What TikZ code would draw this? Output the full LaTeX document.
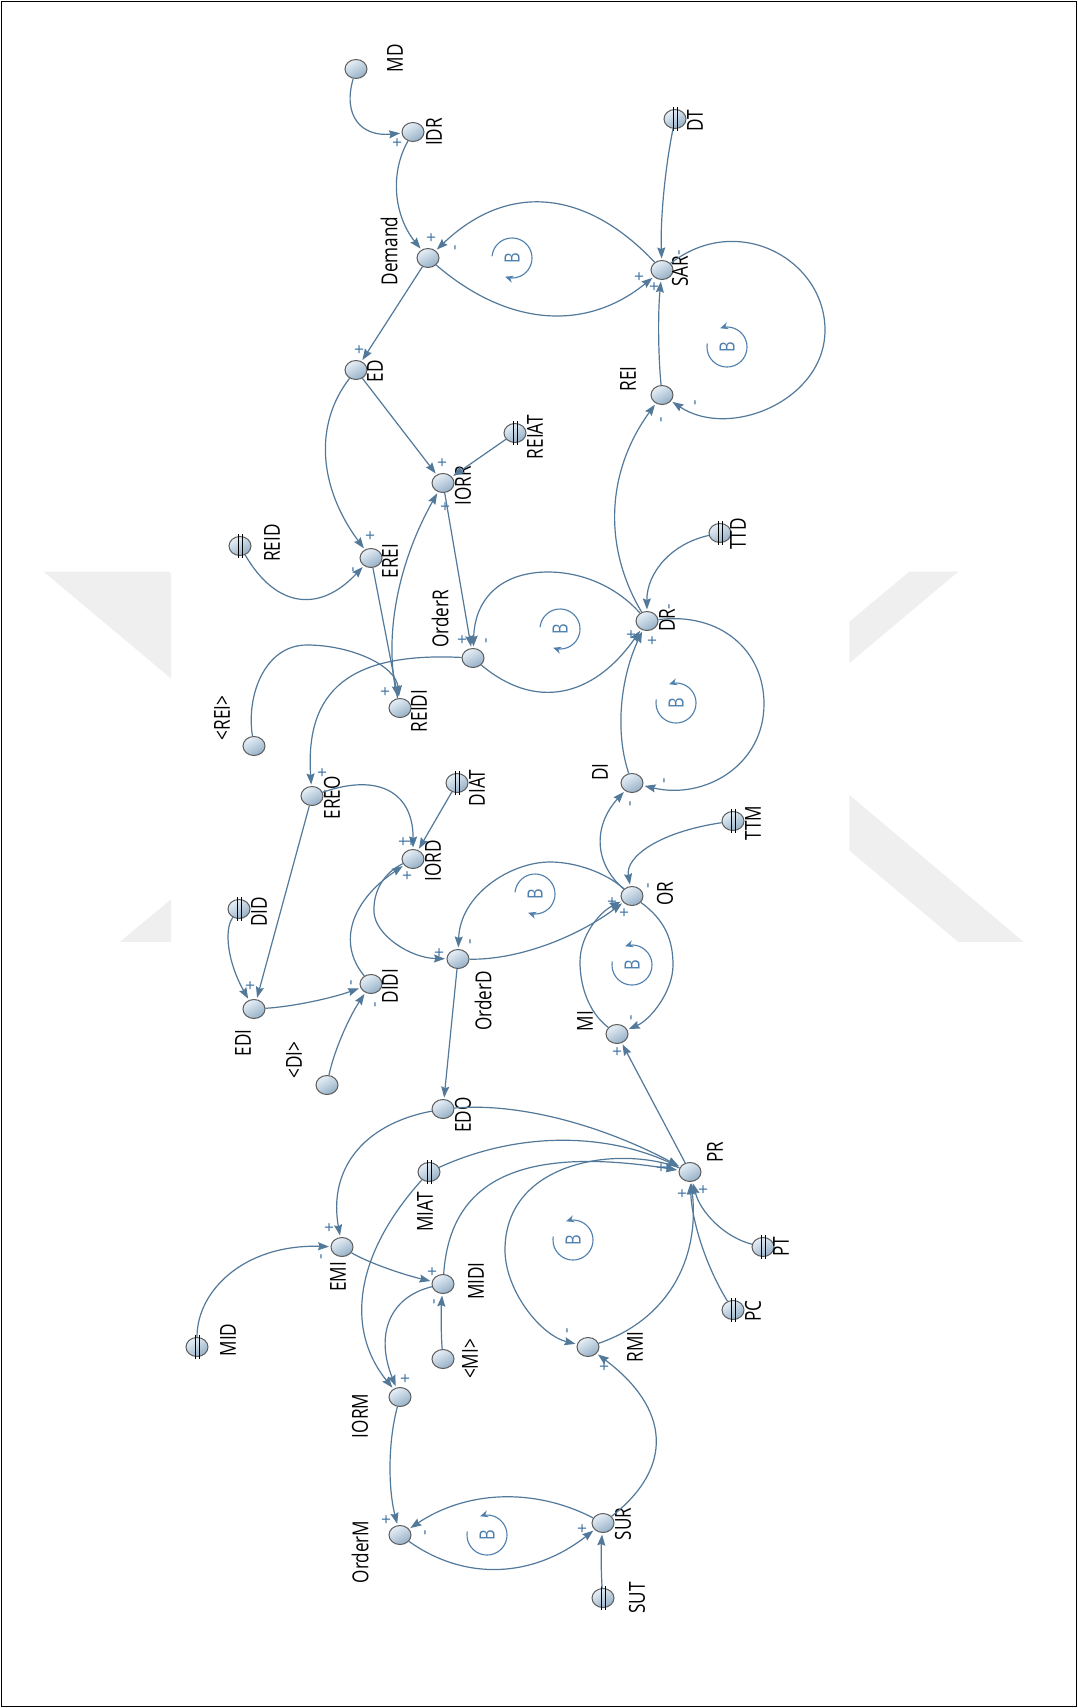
\documentclass[tikz,border=0pt]{standalone}
\usepackage{fontspec}
\setmainfont{Open Sans}
\newfontfamily\labf[FakeStretch=0.78]{Open Sans}
\usetikzlibrary{arrows.meta,calc,shapes.geometric}
\definecolor{lk}{HTML}{52799A}
\definecolor{sg}{HTML}{3F73A3}
\definecolor{blc}{HTML}{4F80AD}
\definecolor{vb}{HTML}{5C5C5C}
\definecolor{vl}{HTML}{E8F0F7}
\definecolor{vd}{HTML}{94AFC6}
\definecolor{wm}{HTML}{EFEFEF}
\tikzset{
 var/.style={ellipse, draw=vb, line width=1pt, minimum width=22pt, minimum height=19pt, inner sep=0pt, top color=vl, bottom color=vd, shading angle=30},
 lab/.style={font=\labf\fontsize{22}{24}\selectfont, rotate=90, inner sep=0pt, text=black},
 sgn/.style={font=\fontsize{17}{18}\selectfont, rotate=90, inner sep=0pt, text=sg},
 link/.style={draw=lk, line width=1.2pt, -{Stealth[length=11pt,width=8pt,inset=1.5pt]}, shorten >=1.5pt},
 cbar/.style={line width=1pt, black},
 bsym/.style={font=\labf\fontsize{21}{22}\selectfont, rotate=90, inner sep=0pt, text=blc},
 bloop/.style={draw=blc, line width=1.1pt, -{Stealth[length=8pt,width=7pt]}},
}
\newcommand\cst[1]{\draw[cbar] ($(#1)+(-2,-12)$)--($(#1)+(-2,12)$) ($(#1)+(2,-12)$)--($(#1)+(2,12)$);}
\newcommand\qlink[3]{\coordinate (qq) at ($2*(#2)-0.5*(#1)-0.5*(#3)$);
 \draw[link] (#1) .. controls ($(#1)!0.6667!(qq)$) and ($(#3)!0.6667!(qq)$) .. (#3);}
\newcommand\bcw[3]{\draw[bloop] plot[domain=185:470,samples=40,smooth] ({#1+20*cos(\x)},{#2+20*sin(\x)});
 \node[bsym] (#3) at (#1,#2) {B};}
\newcommand\bccw[3]{\draw[bloop] plot[domain=-190:110,samples=40,smooth] ({#1+20*cos(-\x)},{#2+20*sin(-\x)});
 \node[bsym] (#3) at (#1,#2) {B};}
\begin{document}
\begin{tikzpicture}[x=1pt,y=-1pt]
\useasboundingbox (0,0) rectangle (1078,1708);
\fill[white] (0,0) rectangle (1078,1708);
% faint watermark outside the diagram area
\fill[wm] (43.6,571.7) -- (168.8,571.7) -- (171,574) -- (171,678.4) -- cycle;
\fill[wm] (119.8,941.9) -- (171,941.9) -- (171,899.4) -- cycle;
\fill[wm] (909.2,571.7) -- (958.2,571.7) -- (849.3,663.1) -- (849.3,621.8) -- cycle;
\fill[wm] (849.3,794.9) -- (1023.6,941.9) -- (958.2,941.9) -- (849.3,850.4) -- cycle;
\draw[line width=1.5pt] (1.5,1.5) rectangle (1076.5,1706.5);
% variables
\node[var] (MD) at (356,69) {};
\node[var] (IDR) at (413,132) {};
\node[var] (Demand) at (428,258) {};
\node[var] (SAR) at (662,270) {};
\node[var] (DT) at (675,119) {};
\node[var] (ED) at (356,370) {};
\node[var] (REI) at (662,395) {};
\node[var] (REIAT) at (515,433) {};
\node[var] (IORR) at (443,483) {};
\node[var] (REID) at (240,546) {};
\node[var] (EREI) at (371,558) {};
\node[var] (TTD) at (720,533) {};
\node[var] (DR) at (647,621) {};
\node[var] (OrderR) at (473,658) {};
\node[var] (REIDI) at (400,708) {};
\node[var] (REIx) at (254,746) {};
\node[var] (EREO) at (312,796) {};
\node[var] (DIAT) at (457,783) {};
\node[var] (DI) at (632,783) {};
\node[var] (TTM) at (733,821) {};
\node[var] (IORD) at (413,859) {};
\node[var] (OR) at (632,896) {};
\node[var] (DID) at (239,909) {};
\node[var] (OrderD) at (458,959) {};
\node[var] (DIDI) at (371,984) {};
\node[var] (EDI) at (254,1009) {};
\node[var] (MI) at (617,1034) {};
\node[var] (DIx) at (327,1085) {};
\node[var] (EDO) at (443,1109) {};
\node[var] (MIAT) at (429,1172) {};
\node[var] (PR) at (690,1172) {};
\node[var] (EMI) at (342,1247) {};
\node[var] (PT) at (763,1247) {};
\node[var] (MIDI) at (443,1284) {};
\node[var] (PC) at (733,1310) {};
\node[var] (MID) at (197,1347) {};
\node[var] (RMI) at (588,1347) {};
\node[var] (MIx) at (443,1359) {};
\node[var] (IORM) at (400,1397) {};
\node[var] (SUR) at (603,1523) {};
\node[var] (OrderM) at (400,1535) {};
\node[var] (SUT) at (603,1598) {};
\foreach \c in {DT,REIAT,REID,TTD,DIAT,TTM,DID,MIAT,PT,PC,MID,SUT} {\cst{\c}}
% labels
\node[lab] (lMD) at (395,58) {MD};
\node[lab] (lIDR) at (434,132) {IDR};
\node[lab] (lDemand) at (389,251) {Demand};
\node[lab] (lSAR) at (680,271) {SAR};
\node[lab] (lDT) at (695,121) {DT};
\node[lab] (lED) at (375,371) {ED};
\node[lab] (lREI) at (628,379) {REI};
\node[lab] (lREIAT) at (535,437) {REIAT};
\node[lab] (lIORR) at (463,486) {IORR};
\node[lab] (lREID) at (272,543) {REID};
\node[lab] (lEREI) at (390,561) {EREI};
\node[lab] (lOrderR) at (440,619) {OrderR};
\node[lab] (lREIDI) at (419,711) {REIDI};
\node[lab] (lREIx) at (222,718) {<REI>};
\node[lab] (lEREO) at (332,798) {EREO};
\node[lab] (lDIAT) at (477,788) {DIAT};
\node[lab] (lIORD) at (433,861) {IORD};
\node[lab] (lDID) at (259,912) {DID};
\node[lab] (lOrderD) at (483,1001) {OrderD};
\node[lab] (lDIDI) at (390,986) {DIDI};
\node[lab] (lEDI) at (243,1043) {EDI};
\node[lab] (lDIx) at (294,1060) {<DI>};
\node[lab] (lTTD) at (738,534) {TTD};
\node[lab] (lDR) at (667,620) {DR};
\node[lab] (lDI) at (600,772) {DI};
\node[lab] (lTTM) at (753,823) {TTM};
\node[lab] (lOR) at (665,894) {OR};
\node[lab] (lMI) at (585,1021) {MI};
\node[lab] (lEDO) at (463,1115) {EDO};
\node[lab] (lMIAT) at (425,1212) {MIAT};
\node[lab] (lEMI) at (338,1277) {EMI};
\node[lab] (lMIDI) at (476,1281) {MIDI};
\node[lab] (lMID) at (228,1340) {MID};
\node[lab] (lMIx) at (470,1359) {<MI>};
\node[lab] (lIORM) at (360,1416) {IORM};
\node[lab] (lPR) at (715,1152) {PR};
\node[lab] (lPT) at (781,1247) {PT};
\node[lab] (lPC) at (753,1311) {PC};
\node[lab] (lRMI) at (635,1347) {RMI};
\node[lab] (lOrderM) at (360,1552) {OrderM};
\node[lab] (lSUR) at (623,1524) {SUR};
\node[lab] (lSUT) at (637,1598) {SUT};
% links: top
\qlink{MD}{360,120}{IDR}
\qlink{IDR}{399,195}{Demand}
\qlink{Demand}{547,313}{SAR}
\qlink{SAR}{545,205}{Demand}
\qlink{DT}{664,195}{SAR}
\qlink{REI}{659,332}{SAR}
\draw[link] (SAR) .. controls (738,211) and (825,260) .. (825,330) .. controls (825,400) and (730,440) .. (REI);
\draw[link] (Demand) -- (ED);
\qlink{ED}{328,458}{EREI}
\draw[link] (ED) -- (IORR);
\draw[link] (REIAT) -- (IORR);
\draw[link] (IORR) -- (OrderR);
\draw[link] (EREI) -- (REIDI);
\qlink{REIDI}{398,600}{IORR}
\qlink{REID}{300,596}{EREI}
\draw[link] (REIx) .. controls (246,695) and (265,645) .. (307,645) .. controls (350,645) and (396,665) .. (REIDI);
\qlink{OrderR}{563,688}{DR}
\draw[link] (DR) .. controls (615,585) and (580,572) .. (548,572) .. controls (505,572) and (475,595) .. (OrderR);
\qlink{TTD}{665,563}{DR}
\qlink{DR}{617,508}{REI}
\draw[link] (DR) .. controls (720,612) and (764,650) .. (764,704) .. controls (764,765) and (705,800) .. (DI);
\qlink{DI}{623,705}{DR}
\qlink{OR}{603,843}{DI}
\qlink{TTM}{652,848}{OR}
\draw[link] (OR) .. controls (605,872) and (575,862) .. (550,862) .. controls (510,862) and (460,895) .. (OrderD);
\qlink{OrderD}{545,944}{OR}
\draw[link] (MI) .. controls (588,1012) and (580,985) .. (580,962) .. controls (580,935) and (600,912) .. (OR);
\draw[link] (OR) .. controls (665,920) and (673,940) .. (673,965) .. controls (673,992) and (650,1020) .. (MI);
\draw[link] (PR) -- (MI);
% middle
\draw[link] (IORD) .. controls (385,872) and (373,890) .. (374,912) .. controls (375,935) and (410,958) .. (OrderD);
\qlink{DIDI}{356,922}{IORD}
\qlink{EREO}{388,794}{IORD}
\draw[link] (DIAT) -- (IORD);
\draw[link] (OrderR) .. controls (350,652) and (305,690) .. (EREO);
\draw[link] (EREO) -- (EDI);
\qlink{DID}{231,950}{EDI}
\qlink{EDI}{312,1001}{DIDI}
\qlink{DIx}{343,1035}{DIDI}
\draw[link] (OrderD) -- (EDO);
% bottom
\qlink{EDO}{560,1120}{PR}
\qlink{EDO}{357,1155}{EMI}
\qlink{MIAT}{560,1142}{PR}
\qlink{MIAT}{366,1290}{IORM}
\draw[link] (MIDI) .. controls (450,1180) and (520,1145) .. (PR);
\qlink{PT}{716,1221}{PR}
\qlink{PC}{702,1243}{PR}
\qlink{RMI}{672,1283}{PR}
\draw[link] (PR) .. controls (620,1145) and (505,1160) .. (505,1250) .. controls (505,1290) and (540,1335) .. (RMI);
\qlink{SUR}{653,1437}{RMI}
\qlink{SUT}{601.5,1561}{SUR}
\qlink{IORM}{391,1465}{OrderM}
\qlink{SUR}{500,1499}{OrderM}
\qlink{OrderM}{500,1567}{SUR}
\qlink{EMI}{385,1267}{MIDI}
\draw[link] (MID) .. controls (197,1290) and (245,1244) .. (EMI);
\qlink{MIx}{441.5,1322}{MIDI}
\qlink{MIDI}{392,1322}{IORM}
% loop symbols
\bcw{512}{258}{B1}
\bccw{727}{347}{B2}
\bcw{560}{629}{B3}
\bccw{676}{703}{B4}
\bcw{535}{894}{B5}
\bccw{632}{965}{B6}
\bccw{573}{1240}{B7}
\bccw{487}{1535}{B8}
% signs
\node[sgn] (s1) at (398,143) {+};
\node[sgn] (s2) at (432,238) {+};
\node[sgn] (s3) at (457,248) {-};
\node[sgn] (s4) at (360,350) {+};
\node[sgn] (s5) at (640,277) {+};
\node[sgn] (s6) at (655,287) {+};
\node[sgn] (s7) at (681,253) {-};
\node[sgn] (s8) at (697,403) {-};
\node[sgn] (s9) at (663,420) {-};
\node[sgn] (s10) at (443,463) {+};
\node[sgn] (s11) at (446,507) {+};
\node[sgn] (s12) at (371,536) {+};
\node[sgn] (s13) at (355,570) {-};
\node[sgn] (s14) at (463,640) {+};
\node[sgn] (s15) at (488,641) {-};
\node[sgn] (s16) at (386,692) {+};
\node[sgn] (s17) at (323,773) {+};
\node[sgn] (s18) at (404,842) {+};
\node[sgn] (s19) at (412,842) {+};
\node[sgn] (s20) at (408,876) {+};
\node[sgn] (s21) at (671,607) {-};
\node[sgn] (s22) at (632,635) {+};
\node[sgn] (s23) at (653,641) {+};
\node[sgn] (s24) at (666,781) {-};
\node[sgn] (s25) at (632,804) {-};
\node[sgn] (s26) at (650,886) {-};
\node[sgn] (s27) at (613,902) {+};
\node[sgn] (s28) at (625,913) {+};
\node[sgn] (s29) at (633,1018) {-};
\node[sgn] (s30) at (618,1052) {+};
\node[sgn] (s31) at (440,953) {+};
\node[sgn] (s32) at (472,942) {-};
\node[sgn] (s33) at (353,983) {-};
\node[sgn] (s34) at (377,1005) {-};
\node[sgn] (s35) at (251,986) {+};
\node[sgn] (s36) at (662,1168) {+};
\node[sgn] (s37) at (668,1168) {+};
\node[sgn] (s38) at (683,1194) {+};
\node[sgn] (s39) at (704,1190) {+};
\node[sgn] (s40) at (330,1228) {+};
\node[sgn] (s41) at (323,1257) {-};
\node[sgn] (s42) at (433,1272) {+};
\node[sgn] (s43) at (436,1302) {-};
\node[sgn] (s44) at (406,1379) {+};
\node[sgn] (s45) at (569,1331) {-};
\node[sgn] (s46) at (605,1367) {+};
\node[sgn] (s47) at (387,1520) {+};
\node[sgn] (s48) at (427,1533) {-};
\node[sgn] (s49) at (583,1529) {+};
\end{tikzpicture}
\end{document}
